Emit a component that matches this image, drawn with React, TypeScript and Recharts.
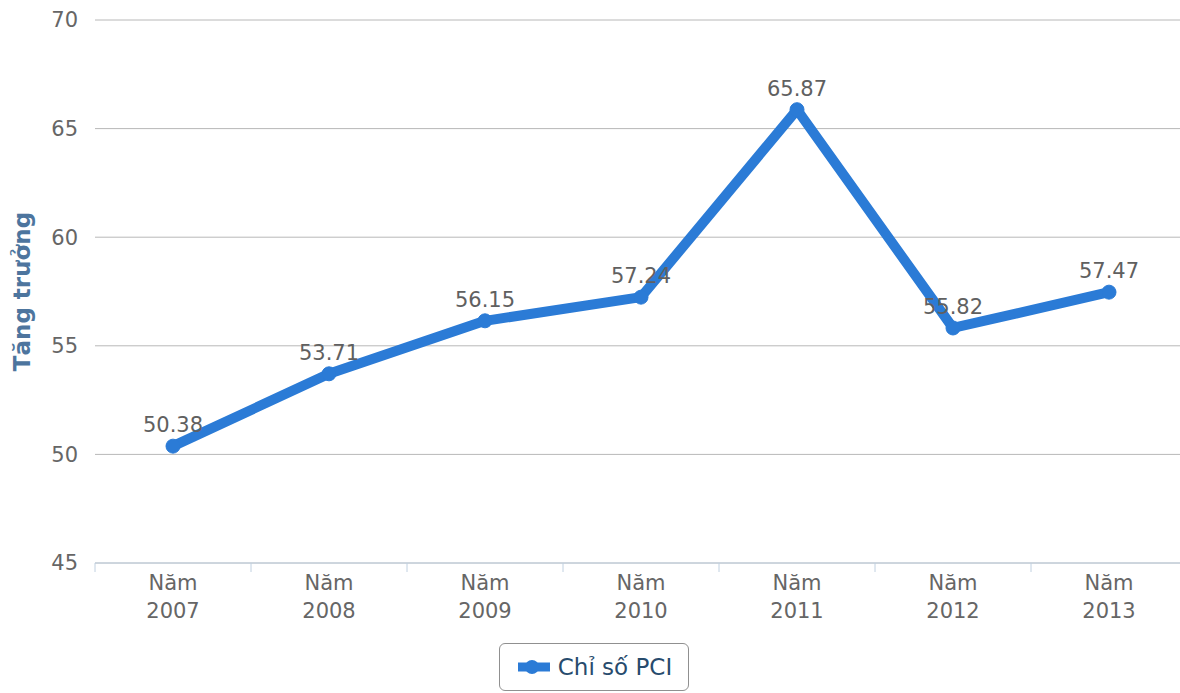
import { CartesianGrid, LabelList, Legend, Line, LineChart, XAxis, YAxis } from 'recharts';

const years = ['2007', '2008', '2009', '2010', '2011', '2012', '2013'];
const pciValues = [50.38, 53.71, 56.15, 57.24, 65.87, 55.82, 57.47];
const yTicks = [45, 50, 55, 60, 65, 70];
const seriesName = 'Chỉ số PCI';
const yTitle = 'Tăng trưởng';
const yearPrefix = 'Năm';

const LINE_COLOR = '#2b7bd6';

const data = years.map((year, i) => ({ idx: i, year, pci: pciValues[i] }));
const labelTicks = years.map((_, i) => i);
const boundaryTicks = [...years.map((_, i) => i - 0.5), years.length - 0.5];
const xDomain = [-0.5, years.length - 0.5];

function YearTick(props: any) {
  const { x, y, payload } = props;
  const year = years[payload.value];
  if (year === undefined) return null;
  return (
    <text x={x} y={y} textAnchor="middle" fill="#666666" fontSize={21}>
      <tspan x={x} dy={11}>{yearPrefix}</tspan>
      <tspan x={x} dy={28}>{year}</tspan>
    </text>
  );
}

function AxisTitle(props: any) {
  const vb = props.viewBox;
  const cx = 30;
  const cy = vb.y + vb.height / 2;
  return (
    <text
      x={cx}
      y={cy}
      transform={`rotate(-90, ${cx}, ${cy})`}
      textAnchor="middle"
      fill="#4d759e"
      fontSize={23}
      fontWeight="bold"
    >
      {yTitle}
    </text>
  );
}

function LegendBox() {
  return (
    <div style={{ display: 'flex', justifyContent: 'center' }}>
      <div
        style={{
          border: '1px solid #909090',
          borderRadius: 6,
          height: 46,
          padding: '0 16px 0 18px',
          display: 'flex',
          alignItems: 'center',
          gap: 8,
          background: '#fff'
        }}
      >
        <svg width={32} height={16}>
          <line x1={0} y1={8} x2={32} y2={8} stroke={LINE_COLOR} strokeWidth={9} />
          <circle cx={14} cy={8} r={7} fill={LINE_COLOR} />
        </svg>
        <span style={{ color: '#274b6d', fontSize: 23 }}>{seriesName}</span>
      </div>
    </div>
  );
}

export default function App() {
  return (
    <div
      style={{
        position: 'absolute',
        left: 0,
        top: 0,
        width: 1180,
        height: 693,
        overflow: 'hidden',
        background: '#fff',
        fontFamily: '"DejaVu Sans", sans-serif'
      }}
    >
      <LineChart width={1188} height={693} data={data} margin={{ top: 20, right: 1, bottom: 62, left: 0 }}>
        <CartesianGrid vertical={false} stroke="#b8b8b8" />
        <XAxis
          type="number"
          dataKey="idx"
          domain={xDomain}
          ticks={boundaryTicks}
          tick={() => <g />}
          tickSize={9}
          height={8}
          stroke="#c0d0e0"
          axisLine={{ stroke: '#c0d0e0' }}
          tickLine={{ stroke: '#c0d0e0' }}
        />
        <XAxis
          xAxisId="labels"
          type="number"
          dataKey="idx"
          domain={xDomain}
          ticks={labelTicks}
          axisLine={false}
          tickLine={false}
          height={60}
          tick={<YearTick />}
        />
        <YAxis
          type="number"
          domain={[45, 70]}
          ticks={yTicks}
          width={95}
          axisLine={false}
          tickLine={false}
          tickMargin={11}
          tick={{ fill: '#666666', fontSize: 21 }}
          label={{ content: <AxisTitle /> }}
        />
        <Legend verticalAlign="middle" wrapperStyle={{ top: 643, left: 0, width: 1188 }} content={<LegendBox />} />
        <Line
          type="linear"
          dataKey="pci"
          name={seriesName}
          stroke={LINE_COLOR}
          strokeWidth={10}
          strokeLinejoin="round"
          dot={{ r: 7, fill: LINE_COLOR, stroke: LINE_COLOR, strokeWidth: 1 }}
          activeDot={false}
          isAnimationActive={false}
        >
          <LabelList dataKey="pci" position="top" offset={14} fill="#606060" fontSize={21} />
        </Line>
      </LineChart>
    </div>
  );
}
